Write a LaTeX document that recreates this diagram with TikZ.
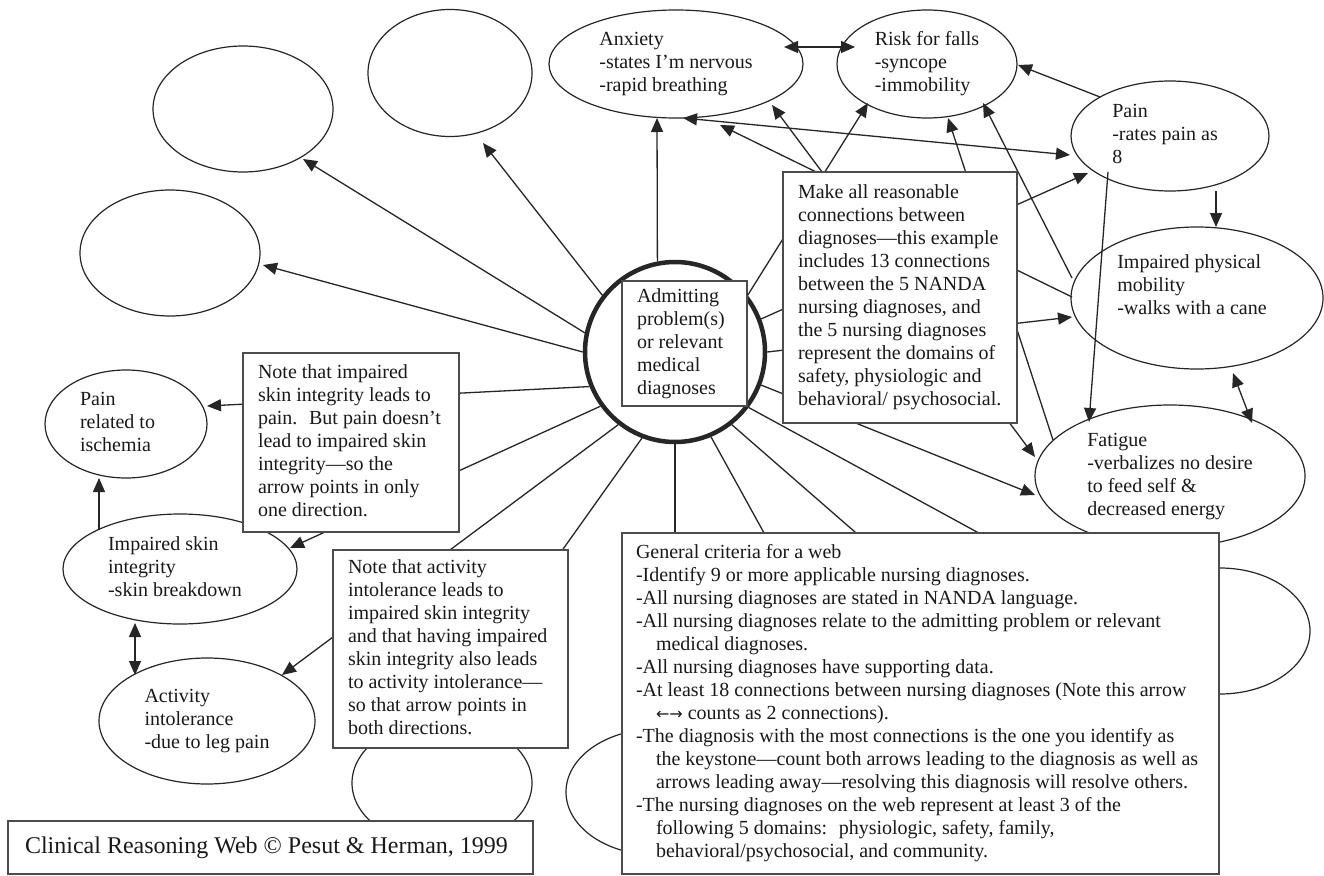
\documentclass[tikz,border=0pt]{standalone}
\usepackage{fontspec}
\setmainfont{Liberation Serif}
\newfontfamily\arrowfont{DejaVu Sans}
\usetikzlibrary{arrows.meta,shapes.geometric,calc}
\newcommand{\tlines}[1]{\begin{tabular}{@{}l@{}}#1\end{tabular}}
\colorlet{ink}{black!85}
\begin{document}
\begin{tikzpicture}[x=1pt,y=-1pt,
  every node/.style={font=\fontsize{20}{23}\selectfont, text=black!90},
  ell/.style={draw=ink, line width=1.2pt, ellipse, inner sep=0pt},
  box/.style={draw=black!70, line width=1.4pt, fill=white, rectangle, inner ysep=0pt},
  con/.style={draw=ink, line width=1.3pt},
  arr/.style={con, -{Triangle[length=14pt,width=12pt]}},
  darr/.style={con, {Triangle[length=14pt,width=12pt]}-{Triangle[length=14pt,width=12pt]}}]
\path[use as bounding box, fill=white] (0,0) rectangle (1324,875);

% ---- ellipses (diagnoses) ----
\node[ell, minimum width=180pt, minimum height=126pt] (E1) at (243,109) {};
\node[ell, minimum width=180pt, minimum height=126pt] (E2) at (170,253) {};
\node[ell, minimum width=164pt, minimum height=127pt] (E3) at (450,73) {};
\node[ell, minimum width=254pt, minimum height=108pt] (anx) at (676,64) {\tlines{Anxiety\\-states I’m nervous\\-rapid breathing}};
\node[ell, minimum width=180pt, minimum height=108pt] (risk) at (927,64) {\tlines{Risk for falls\\-syncope\\-immobility}};
\node[ell, minimum width=198pt, minimum height=110pt] (pain) at (1170,136) {\tlines{Pain\\-rates pain as\\8}\hspace*{10pt}};
\node[ell, minimum width=252pt, minimum height=142pt] (mob) at (1197,298) {\tlines{Impaired physical\\mobility\\-walks with a cane\\ ~}\hspace*{10pt}};
\node[ell, minimum width=270pt, minimum height=142pt] (fat) at (1170,476) {\tlines{Fatigue\\-verbalizes no desire\\to feed self \&\\decreased energy}};
\node[ell, minimum width=180pt, minimum height=126pt] (H1) at (1220,631) {};
\node[ell, minimum width=180pt, minimum height=126pt] (H2) at (656,792) {};
\node[ell, minimum width=180pt, minimum height=126pt] (H3) at (442,783) {};
\node[ell, minimum width=162pt, minimum height=108pt] (pis) at (126,424) {\tlines{Pain\\related to\\ischemia}\hspace*{17pt}};
\node[ell, minimum width=234pt, minimum height=110pt] (skin) at (180,569) {\tlines{Impaired skin\\integrity\\-skin breakdown}\hspace*{10pt}};
\node[ell, minimum width=216pt, minimum height=126pt] (act) at (207,721) {\tlines{Activity\\intolerance\\-due to leg pain}};

% ---- centre ----
\node[circle, draw=ink, line width=4.5pt, minimum size=180pt, inner sep=0pt] (circ) at (675,352) {};
\node[box, minimum height=125pt, inner xsep=15pt] (adm) at (684.5,343.5)
  {\makebox[95pt][l]{\tlines{Admitting\\problem(s)\\or relevant\\medical\\diagnoses}}};

% ---- spokes from the centre ----
\coordinate (hA) at (801,600);
\coordinate (hB) at (933,600);
\draw[arr] (circ.142.8) -- ([shift={(33,70)}]E3.center);
\draw[arr] (circ.168.3) -- ([shift={(60,50)}]E1.center);
\draw[arr] (circ.180) -- ([shift={(93,12)}]E2.center);
\draw[arr] (circ.202) -- ([shift={(81,-18)}]pis.center);
\draw[arr] (circ.216.7) -- ([shift={(110,-21)}]skin.center);
\draw[arr] (circ.232.3) -- ([shift={(75,-46)}]act.center);
\draw[arr] (circ.249) -- (H3.north);
\draw[con] (circ.south) -- (circ.south |- H2.north);
\draw[con] (circ.-67.6) -- (hA);
\draw[con] (circ.-52.8) -- (hB);
\draw[arr] (circ.-37.2) -- ([shift={(-89,-15)}]H1.center);
\draw[arr] (circ.-21.8) -- ([shift={(-135,19)}]fat.center);
\draw[arr] (circ.0) -- ([shift={(-125,19)}]mob.center);
\draw[arr] (circ.21.3) -- ([shift={(-82,37)}]pain.center);
\draw[arr] (circ.38.4) -- ([shift={(-59,39)}]risk.center);
\draw[arr] (circ.101.3) -- ([shift={(-19,54)}]anx.center);

% ---- connections between diagnoses ----
\draw[darr] ([shift={(108,-17)}]anx.center) -- ([shift={(-72,-17)}]risk.center);
\draw[darr] ([shift={(7,54)}]anx.center) -- ([shift={(-100,19)}]pain.center);
\draw[arr] ([shift={(-70,-39)}]pain.center) -- ([shift={(91,1)}]risk.center);
\draw[arr] ([shift={(-117,-36)}]fat.center) -- ([shift={(21,54)}]risk.center);
\draw[arr] ([shift={(-125,-20)}]mob.center) -- ([shift={(56,39)}]risk.center);
\draw[arr] ([shift={(46,55)}]pain.center) -- ([shift={(19,-71)}]mob.center);
\draw[arr] ([shift={(-62,36)}]pain.center) -- ([shift={(-81,-54)}]fat.center);
\draw[darr] ([shift={(36,75)}]mob.center) -- ([shift={(82,-53)}]fat.center);
\draw[darr] ([shift={(96,41)}]anx.center) -- ([shift={(-135,-19)}]fat.center);
\draw[arr] ([shift={(-125,-1)}]mob.center) -- ([shift={(44,61)}]anx.center);
\draw[arr] ([shift={(-81,-39)}]skin.center) -- ([shift={(-27,54)}]pis.center);
\draw[darr] ([shift={(-45,54)}]skin.center) -- ([shift={(-72,-46)}]act.center);

% ---- text boxes ----
\node[box, minimum height=251pt, inner xsep=15pt] (make) at (900,297.5)
  {\makebox[204pt][l]{\tlines{Make all reasonable\\connections between\\diagnoses—this example\\includes 13 connections\\between the 5 NANDA\\nursing diagnoses, and\\the 5 nursing diagnoses\\represent the domains of\\safety, physiologic and\\behavioral/ psychosocial.}}};
\node[box, minimum height=179pt, inner xsep=15pt] (note1) at (351,442.5)
  {\makebox[186pt][l]{\tlines{Note that impaired\\skin integrity leads to\\pain.~ But pain doesn’t\\lead to impaired skin\\integrity—so the\\arrow points in only\\one direction.}}};
\node[box, minimum height=198pt, inner xsep=15pt] (note2) at (450.5,649)
  {\makebox[205pt][l]{\tlines{Note that activity\\intolerance leads to\\impaired skin integrity\\and that having impaired\\skin integrity also leads\\to activity intolerance—\\so that arrow points in\\both directions.}}};
\node[box, minimum height=341pt, inner xsep=14pt] (crit) at (920.5,703.5)
  {\makebox[569pt][l]{\tlines{General criteria for a web\\-Identify 9 or more applicable nursing diagnoses.\\-All nursing diagnoses are stated in NANDA language.\\-All nursing diagnoses relate to the admitting problem or relevant\\\hspace*{20pt}medical diagnoses.\\-All nursing diagnoses have supporting data.\\-At least 18 connections between nursing diagnoses (Note this arrow\\\hspace*{20pt}{\arrowfont\fontsize{16}{23}\selectfont ←→} counts as 2 connections).\\-The diagnosis with the most connections is the one you identify as\\\hspace*{20pt}the keystone—count both arrows leading to the diagnosis as well as\\\hspace*{20pt}arrows leading away—resolving this diagnosis will resolve others.\\-The nursing diagnoses on the web represent at least 3 of the\\\hspace*{20pt}following 5 domains:~ physiologic, safety, family,\\\hspace*{20pt}behavioral/psychosocial, and community.}}};
\node[box, minimum height=53pt, inner xsep=17pt, font=\fontsize{24}{28}\selectfont] (foot) at (270.5,847.5)
  {\makebox[491pt][l]{Clinical Reasoning Web © Pesut \& Herman, 1999}};
\end{tikzpicture}
\end{document}
